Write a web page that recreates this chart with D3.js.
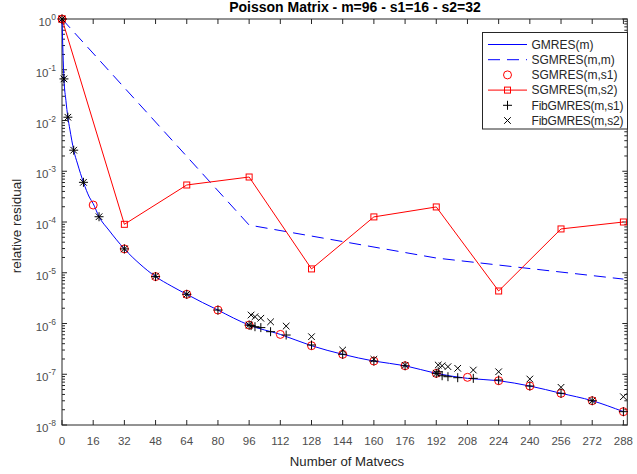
<!DOCTYPE html>
<html lang="en">
<head>
<meta charset="UTF-8">
<title>Poisson Matrix</title>
<script src="https://d3js.org/d3.v7.min.js"></script>
<style>
    body { margin: 0; background: #fff; }
    text { font-family: "Liberation Sans", Arial, sans-serif; }
</style>
</head>
<body>
<script>
// GMRES(m) - full curve
const gmresX = [0, 1, 2, 3, 4, 5, 6, 8, 11, 14, 16, 19, 24, 32, 40, 48, 56, 64, 72, 80, 88, 96,
    112, 128, 144, 160, 176, 192, 208, 224, 240, 256, 272, 288];
const gmresY = [1, 0.066, 0.025, 0.0116, 0.0068, 0.0041, 0.0026, 0.00139, 6.05e-4, 3.1e-4, 2.3e-4, 1.27e-4,
    6.95e-5, 2.95e-5, 1.48e-5, 8.4e-6, 5.5e-6, 3.76e-6, 2.6e-6, 1.84e-6, 1.28e-6, 9.3e-7,
    6.1e-7, 3.65e-7, 2.47e-7, 1.82e-7, 1.47e-7, 1.04e-7, 8.3e-8, 7.46e-8, 5.86e-8, 4.21e-8, 3.01e-8, 1.83e-8];

// SGMRES(m,m)
const sgmmX = [0, 96, 192, 288];
const sgmmY = [1, 8.7e-5, 1.95e-5, 7.5e-6];

// SGMRES(m,s1) - circles
const sgs1X = [0, 16, 32, 48, 64, 80, 96, 112, 128, 144, 160, 176, 192, 208, 224, 240, 256, 272, 288];
const sgs1Y = [1, 2.16e-4, 2.95e-5, 8.4e-6, 3.76e-6, 1.84e-6, 9.3e-7, 6.1e-7, 3.65e-7, 2.47e-7, 1.82e-7,
    1.47e-7, 1.04e-7, 8.7e-8, 7.46e-8, 5.86e-8, 4.21e-8, 3.01e-8, 1.83e-8];

// SGMRES(m,s2) - line with squares
const sgs2X = [0, 32, 64, 96, 128, 160, 192, 224, 256, 288];
const sgs2Y = [1, 9.0e-5, 5.36e-4, 7.7e-4, 1.19e-5, 1.26e-4, 1.98e-4, 4.37e-6, 7.3e-5, 1.0e-4];

// FibGMRES(m,s1) - plus
const fib1X = [0, 1, 3, 6, 11, 19, 32, 48, 64, 80, 96, 97, 99, 102, 107, 115, 128, 144, 160, 176,
    192, 193, 195, 198, 203, 211, 224, 240, 256, 272, 288];
const fib1Y = [1, 0.066, 0.0116, 0.0026, 6.05e-4, 1.27e-4, 2.95e-5, 8.4e-6, 3.76e-6, 1.84e-6, 9.3e-7,
    9.1e-7, 8.65e-7, 8.3e-7, 6.9e-7, 5.93e-7, 3.77e-7, 2.47e-7, 1.82e-7, 1.47e-7,
    1.04e-7, 1.12e-7, 9.35e-8, 8.95e-8, 8.55e-8, 8.3e-8, 7.7e-8, 5.86e-8, 4.21e-8, 3.01e-8, 1.83e-8];

// FibGMRES(m,s2) - cross
const fib2X = [0, 1, 3, 6, 11, 19, 32, 48, 64, 96, 97, 99, 102, 107, 115, 128, 144, 160, 176,
    192, 193, 195, 198, 203, 211, 224, 240, 256, 272, 288];
const fib2Y = [1, 0.066, 0.0116, 0.0026, 6.05e-4, 1.27e-4, 2.95e-5, 8.6e-6, 3.76e-6, 9.3e-7,
    1.47e-6, 1.36e-6, 1.27e-6, 1.08e-6, 8.9e-7, 5.5e-7, 3.0e-7, 1.97e-7, 1.5e-7,
    1.04e-7, 1.52e-7, 1.47e-7, 1.41e-7, 1.31e-7, 1.21e-7, 1.12e-7, 8.05e-8, 5.53e-8, 3.01e-8, 3.61e-8];

const xTicks = d3.range(0, 289, 16);
const yExps = d3.range(0, -9, -1);

const legendLabels = ["GMRES(m)", "SGMRES(m,m)", "SGMRES(m,s1)", "SGMRES(m,s2)", "FibGMRES(m,s1)", "FibGMRES(m,s2)"];

const W = 637, H = 474;
const plotL = 62, plotR = 627.3, plotT = 19, plotB = 425;

const svg = d3.select("body").append("svg")
    .attr("width", W)
    .attr("height", H);

const x = d3.scaleLinear().domain([0, 290]).range([plotL, plotR]);
const y = d3.scaleLog().domain([1e-8, 1]).range([plotB, plotT]);

const axisColor = "#262626";
const tickLabelColor = "#4d4d4d";

// axes box
svg.append("rect")
    .attr("x", plotL).attr("y", plotT)
    .attr("width", plotR - plotL).attr("height", plotB - plotT)
    .attr("fill", "none").attr("stroke", axisColor).attr("stroke-width", 1);

// x ticks (inward, bottom and top)
const xt = svg.append("g");
xTicks.forEach(t => {
    xt.append("line").attr("x1", x(t)).attr("x2", x(t)).attr("y1", plotB).attr("y2", plotB - 5)
        .attr("stroke", axisColor);
    xt.append("line").attr("x1", x(t)).attr("x2", x(t)).attr("y1", plotT).attr("y2", plotT + 5)
        .attr("stroke", axisColor);
    xt.append("text").attr("x", x(t)).attr("y", 445)
        .attr("text-anchor", "middle").attr("font-size", 11.5).attr("fill", tickLabelColor)
        .text(t);
});

// y ticks major + minor
const yt = svg.append("g");
yExps.forEach(e => {
    const v = Math.pow(10, e);
    yt.append("line").attr("x1", plotL).attr("x2", plotL + 5).attr("y1", y(v)).attr("y2", y(v)).attr("stroke", axisColor);
    yt.append("line").attr("x1", plotR).attr("x2", plotR - 5).attr("y1", y(v)).attr("y2", y(v)).attr("stroke", axisColor);
    const lab = yt.append("text").attr("x", 56).attr("y", y(v) + 7)
        .attr("text-anchor", "end").attr("font-size", 11.5).attr("fill", tickLabelColor);
    lab.append("tspan").text("10");
    lab.append("tspan").attr("dy", -6).attr("font-size", 8.5).text(e);
    if (e > -8) {
        for (let j = 2; j <= 9; j++) {
            const mv = j * Math.pow(10, e - 1);
            yt.append("line").attr("x1", plotL).attr("x2", plotL + 3).attr("y1", y(mv)).attr("y2", y(mv)).attr("stroke", axisColor);
            yt.append("line").attr("x1", plotR).attr("x2", plotR - 3).attr("y1", y(mv)).attr("y2", y(mv)).attr("stroke", axisColor);
        }
    }
});

const zip = (xs, ys) => xs.map((d, i) => [d, ys[i]]);
const line = d3.line().x(d => x(d[0])).y(d => y(d[1]));

// GMRES(m)
svg.append("path")
    .attr("d", d3.line().x(d => x(d[0])).y(d => y(d[1])).curve(d3.curveMonotoneX)(zip(gmresX, gmresY)))
    .attr("fill", "none").attr("stroke", "#0000ff").attr("stroke-width", 1);

// SGMRES(m,m)
svg.append("path")
    .attr("d", line(zip(sgmmX, sgmmY)))
    .attr("fill", "none").attr("stroke", "#0000ff").attr("stroke-width", 1)
    .attr("stroke-dasharray", "12,7");

// SGMRES(m,s1) circles
svg.append("g").selectAll("circle")
    .data(zip(sgs1X, sgs1Y))
    .join("circle")
    .attr("cx", d => x(d[0])).attr("cy", d => y(d[1])).attr("r", 4)
    .attr("fill", "none").attr("stroke", "#ff0000").attr("stroke-width", 1);

// SGMRES(m,s2) line + squares
svg.append("path")
    .attr("d", line(zip(sgs2X, sgs2Y)))
    .attr("fill", "none").attr("stroke", "#ff0000").attr("stroke-width", 1);
svg.append("g").selectAll("rect")
    .data(zip(sgs2X, sgs2Y))
    .join("rect")
    .attr("x", d => x(d[0]) - 3).attr("y", d => y(d[1]) - 3).attr("width", 6).attr("height", 6)
    .attr("fill", "none").attr("stroke", "#ff0000").attr("stroke-width", 1);

// plus / cross markers
const plus = (g, cx, cy, s) => g.append("path")
    .attr("d", `M${cx - s},${cy}H${cx + s}M${cx},${cy - s}V${cy + s}`)
    .attr("stroke", "#000").attr("stroke-width", 1).attr("fill", "none");
const cross = (g, cx, cy, s) => g.append("path")
    .attr("d", `M${cx - s},${cy - s}L${cx + s},${cy + s}M${cx - s},${cy + s}L${cx + s},${cy - s}`)
    .attr("stroke", "#000").attr("stroke-width", 1).attr("fill", "none");

const gp = svg.append("g");
zip(fib1X, fib1Y).forEach(d => plus(gp, x(d[0]), y(d[1]), 4.5));
const gx = svg.append("g");
zip(fib2X, fib2Y).forEach(d => cross(gx, x(d[0]), y(d[1]), 3.3));

// legend
const lg = svg.append("g");
lg.append("rect").attr("x", 482.5).attr("y", 32.5).attr("width", 145).attr("height", 96.5)
    .attr("fill", "#fff").attr("stroke", axisColor).attr("stroke-width", 1);
legendLabels.forEach((name, i) => {
    const ly = 44.5 + i * 15.2;
    const x0 = 488, x1 = 527, xm = (x0 + x1) / 2;
    if (i === 0) {
        lg.append("line").attr("x1", x0).attr("x2", x1).attr("y1", ly).attr("y2", ly).attr("stroke", "#0000ff");
    } else if (i === 1) {
        lg.append("line").attr("x1", x0).attr("x2", x1).attr("y1", ly).attr("y2", ly).attr("stroke", "#0000ff")
            .attr("stroke-dasharray", "12,7");
    } else if (i === 2) {
        lg.append("circle").attr("cx", xm).attr("cy", ly).attr("r", 4).attr("fill", "none").attr("stroke", "#ff0000");
    } else if (i === 3) {
        lg.append("line").attr("x1", x0).attr("x2", x1).attr("y1", ly).attr("y2", ly).attr("stroke", "#ff0000");
        lg.append("rect").attr("x", xm - 3).attr("y", ly - 3).attr("width", 6).attr("height", 6)
            .attr("fill", "none").attr("stroke", "#ff0000");
    } else if (i === 4) {
        plus(lg, xm, ly, 4.5);
    } else {
        cross(lg, xm, ly, 3.3);
    }
    lg.append("text").attr("x", 531.5).attr("y", ly + 4.2).attr("font-size", 12).attr("fill", axisColor)
        .attr("textLength", i >= 4 ? 92 : null)
        .text(name);
});

// title and labels
svg.append("text").attr("x", 355).attr("y", 12)
    .attr("text-anchor", "middle").attr("font-size", 14).attr("font-weight", "bold").attr("fill", "#000")
    .text("Poisson Matrix - m=96 - s1=16 - s2=32");

svg.append("text").attr("x", 347).attr("y", 466)
    .attr("text-anchor", "middle").attr("font-size", 13.2).attr("fill", axisColor)
    .text("Number of Matvecs");

svg.append("text").attr("transform", "translate(21,226) rotate(-90)")
    .attr("text-anchor", "middle").attr("font-size", 13.5).attr("fill", axisColor)
    .text("relative residual");
</script>
</body>
</html>
